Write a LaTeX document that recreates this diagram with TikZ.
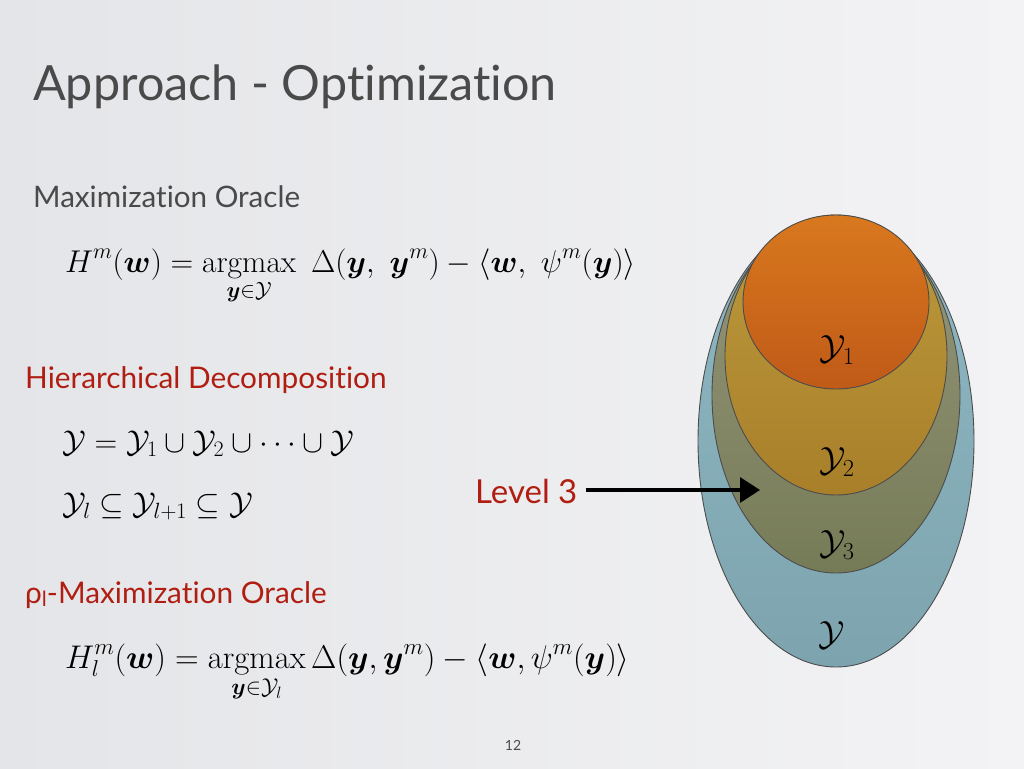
\RequirePackage{fix-cm}
\documentclass[tikz,border=0pt]{standalone}
\usepackage{amsmath}
\usepackage{bm}
\usepackage{fontspec}
\setsansfont{Lato}[Ligatures={NoCommon}]
\usetikzlibrary{arrows.meta,shapes.geometric}
\definecolor{txtgray}{HTML}{4A4A4A}
\definecolor{txtred}{HTML}{B01E12}
\definecolor{bgL}{HTML}{E4E5E8}
\definecolor{bgR}{HTML}{F3F3F5}
\definecolor{yT}{HTML}{8FB8C4}
\definecolor{yB}{HTML}{7DA4AE}
\definecolor{y3T}{HTML}{95977A}
\definecolor{y3B}{HTML}{767B57}
\definecolor{y2T}{HTML}{BC9A3C}
\definecolor{y2B}{HTML}{A97F2A}
\definecolor{y1T}{HTML}{D8781E}
\definecolor{y1B}{HTML}{C05A18}
\tikzset{
  heading/.style={anchor=base west, inner sep=0pt, text=txtgray, font=\sffamily\fontsize{29.6}{34}\selectfont},
  redhead/.style={anchor=base west, inner sep=0pt, text=txtred, font=\sffamily\fontsize{29.8}{34}\selectfont},
  eqn/.style={anchor=base west, inner sep=0pt, font=\fontsize{31.5}{36}\selectfont},
  setlbl/.style={inner sep=0pt, font=\fontsize{35}{40}\selectfont},
  setell/.style={ellipse, draw=black!70, line width=0.9pt, inner sep=0pt},
}
\begin{document}
\begin{tikzpicture}[x=1pt,y=-1pt]
\useasboundingbox (0,0) rectangle (1024,768);
\shade[left color=bgL, right color=bgR] (0,0) rectangle (1024,768);

\node[heading, font=\sffamily\fontsize{48.5}{54}\selectfont] (title) at (33,100) {Approach - Optimization};
\node[heading] (mo) at (33,207) {Maximization Oracle};
\node[eqn] (eq1) at (65,272) {$\displaystyle H^m(\bm{w}) = \operatorname*{argmax}_{\bm{y}\in\mathcal{Y}}\ \Delta(\bm{y},\ \bm{y}^m) - \langle \bm{w},\ \psi^m(\bm{y})\rangle$};

\node[redhead] (hd) at (25,388) {Hierarchical Decomposition};
\node[eqn] (eq2) at (62,452) {$\mathcal{Y} = \mathcal{Y}_1 \cup \mathcal{Y}_2 \cup \cdots \cup \mathcal{Y}$};
\node[eqn] (eq3) at (62,514) {$\mathcal{Y}_l \subseteq \mathcal{Y}_{l+1} \subseteq \mathcal{Y}$};

\node[redhead] (rho) at (25,603) {ρ{\raisebox{-0.12em}{\fontsize{21}{21}\selectfont l}}-Maximization Oracle};
\node[eqn, font=\fontsize{32.8}{38}\selectfont] (eq4) at (65,668) {$\displaystyle H^m_l(\bm{w}) = \operatorname*{argmax}_{\bm{y}\in\mathcal{Y}_l} \Delta(\bm{y}, \bm{y}^m) - \langle \bm{w}, \psi^m(\bm{y})\rangle$};

% nested sets
\node[setell, minimum width=276, minimum height=452, top color=yT, bottom color=yB] (sY) at (836,441) {};
\node[setell, minimum width=248, minimum height=356, top color=y3T, bottom color=y3B] (sY3) at (836,395) {};
\node[setell, minimum width=222, minimum height=278, top color=y2T, bottom color=y2B] (sY2) at (836,356) {};
\node[setell, minimum width=186, minimum height=174, top color=y1T, bottom color=y1B] (sY1) at (836,302) {};

\node[setlbl] (lY1) at (837,350) {$\mathcal{Y}_1$};
\node[setlbl] (lY2) at (837,462) {$\mathcal{Y}_2$};
\node[setlbl] (lY3) at (837,545) {$\mathcal{Y}_3$};
\node[setlbl] (lY) at (832,635) {$\mathcal{Y}$};

\node[redhead, font=\sffamily\fontsize{33}{38}\selectfont] (lvl) at (475,503) {Level 3};
\coordinate (tip) at (760,490);
\draw[line width=3.2pt, -{Triangle[length=20pt,width=25pt]}] (lvl.east |- tip) ++(8,0) -- (tip);

\node[inner sep=0pt, text=txtgray, font=\sffamily\fontsize{14}{16}\selectfont] (pg) at (513,745) {12};
\end{tikzpicture}
\end{document}
